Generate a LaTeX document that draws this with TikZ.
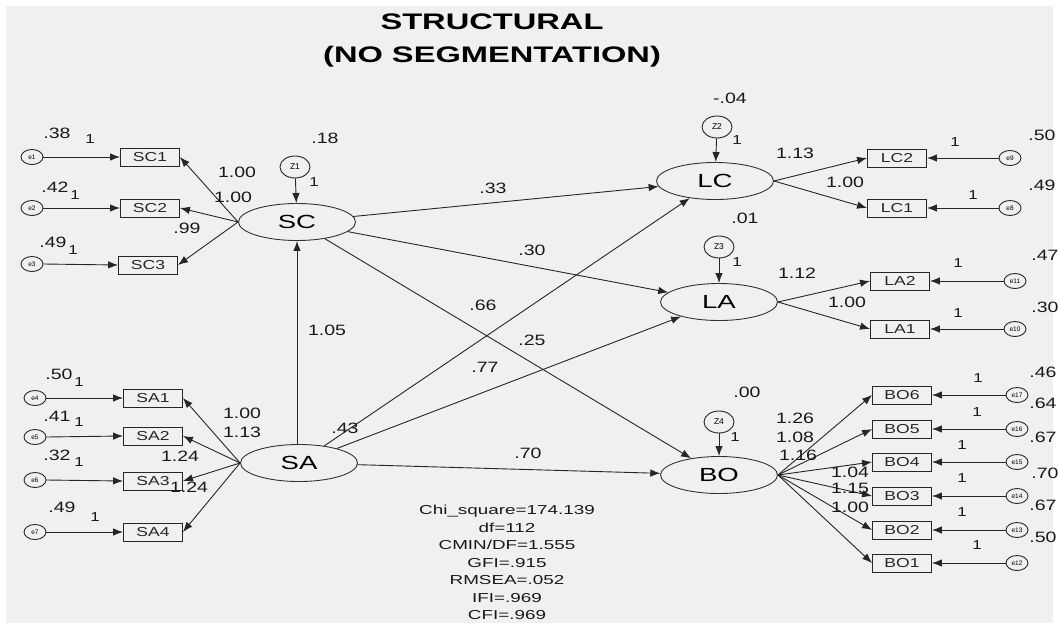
\documentclass[tikz,border=0pt]{standalone}
\usepackage{fontspec}
\setmainfont{Liberation Sans}
\usepackage{graphicx}
\usetikzlibrary{shapes.geometric,arrows.meta}
\newcommand{\sxn}[1]{\scalebox{1.3}[1]{#1}}
\newcommand{\sxw}[1]{\scalebox{1.45}[1]{#1}}
\newcommand{\sxb}[1]{\scalebox{1.35}[1]{#1}}
\newcommand{\lb}[3]{\node[num] (#1) at (#2) {\sxn{#3}};}
\newcommand{\lo}[3]{\node[one] (#1) at (#2) {\sxn{#3}};}
\begin{document}
\begin{tikzpicture}[x=1pt,y=-1pt,
  lat/.style={ellipse,draw=black!80,line width=0.9pt,fill=black!6,minimum width=117pt,minimum height=37pt,inner sep=0pt,font=\fontsize{19}{19}\selectfont},
  obs/.style={rectangle,draw=black!85,line width=0.9pt,fill=black!6,minimum width=59pt,minimum height=18pt,inner sep=0pt,font=\fontsize{13}{13}\selectfont,text=black!85},
  err/.style={ellipse,draw=black!85,line width=0.9pt,minimum width=22pt,minimum height=15pt,inner sep=0pt,font=\fontsize{6.5}{6.5}\selectfont},
  dist/.style={ellipse,draw=black!85,line width=0.9pt,minimum width=30pt,minimum height=22pt,inner sep=0pt,font=\fontsize{8.5}{8.5}\selectfont},
  num/.style={inner sep=0pt,font=\fontsize{15}{15}\selectfont,text=black!90},
  one/.style={inner sep=0pt,font=\fontsize{13}{13}\selectfont,text=black!90},
  arr/.style={-{Latex[length=10pt,width=7.5pt]},line width=0.9pt,draw=black!85},
  ttl/.style={align=center,font=\fontsize{22.5}{33}\selectfont\bfseries},
  stat/.style={align=center,font=\fontsize{13}{17.5}\selectfont,text=black!90}]
\useasboundingbox (0,0) rectangle (1059,629);
\fill[white] (0,0) rectangle (1059,629);
\fill[black!6] (6,6) rectangle (1053,623);

% title
\node[ttl] (title) at (492,40) {\sxw{STRUCTURAL}\\\sxw{(NO SEGMENTATION)}};

% latent variables
\node[lat] (SC) at (297,222) {\sxw{SC}};
\node[lat] (SA) at (299,463) {\sxw{SA}};
\node[lat] (LC) at (715,181) {\sxw{LC}};
\node[lat] (LA) at (719,302) {\sxw{LA}};
\node[lat] (BO) at (719,475) {\sxw{BO}};

% disturbances
\node[dist] (Z1) at (295,167) {Z1};
\node[dist] (Z2) at (717,127) {Z2};
\node[dist] (Z3) at (719,247) {Z3};
\node[dist] (Z4) at (719,422) {Z4};

% observed - left
\node[obs] (SC1) at (150,157) {\sxb{SC1}};
\node[obs] (SC2) at (150,208) {\sxb{SC2}};
\node[obs] (SC3) at (148,265) {\sxb{SC3}};
\node[obs] (SA1) at (153,398) {\sxb{SA1}};
\node[obs] (SA2) at (153,436) {\sxb{SA2}};
\node[obs] (SA3) at (153,481) {\sxb{SA3}};
\node[obs] (SA4) at (153,532) {\sxb{SA4}};
% observed - right
\node[obs] (LC2) at (897,158) {\sxb{LC2}};
\node[obs] (LC1) at (897,208) {\sxb{LC1}};
\node[obs] (LA2) at (900,281) {\sxb{LA2}};
\node[obs] (LA1) at (900,329) {\sxb{LA1}};
\node[obs] (BO6) at (902,395) {\sxb{BO6}};
\node[obs] (BO5) at (902,429) {\sxb{BO5}};
\node[obs] (BO4) at (902,462) {\sxb{BO4}};
\node[obs] (BO3) at (902,496) {\sxb{BO3}};
\node[obs] (BO2) at (902,530) {\sxb{BO2}};
\node[obs] (BO1) at (902,563) {\sxb{BO1}};

% errors
\node[err] (e1) at (32,157) {e1};
\node[err] (e2) at (32,208) {e2};
\node[err] (e3) at (32,264) {e3};
\node[err] (e4) at (35,398) {e4};
\node[err] (e5) at (35,437) {e5};
\node[err] (e6) at (35,480) {e6};
\node[err] (e7) at (35,532) {e7};
\node[err] (e9) at (1010,158) {e9};
\node[err] (e8) at (1010,208) {e8};
\node[err] (e11) at (1015,281) {e11};
\node[err] (e10) at (1015,329) {e10};
\node[err] (e17) at (1017,395) {e17};
\node[err] (e16) at (1017,429) {e16};
\node[err] (e15) at (1017,462) {e15};
\node[err] (e14) at (1017,496) {e14};
\node[err] (e13) at (1017,530) {e13};
\node[err] (e12) at (1017,563) {e12};

% error arrows
\foreach \e/\b in {e1/SC1,e2/SC2,e3/SC3,e4/SA1,e5/SA2,e6/SA3,e7/SA4}
  \draw[arr] (\e.east) -- (\b.west);
\foreach \e/\b in {e9/LC2,e8/LC1,e11/LA2,e10/LA1,e17/BO6,e16/BO5,e15/BO4,e14/BO3,e13/BO2,e12/BO1}
  \draw[arr] (\e.west) -- (\b.east);

% loadings
\foreach \b in {SC1,SC2,SC3} \draw[arr] (SC.west) -- (\b.east);
\foreach \b in {SA1,SA2,SA3,SA4} \draw[arr] (SA.west) -- (\b.east);
\foreach \b in {LC2,LC1} \draw[arr] (LC.east) -- (\b.west);
\foreach \b in {LA2,LA1} \draw[arr] (LA.east) -- (\b.west);
\foreach \b in {BO6,BO5,BO4,BO3,BO2,BO1} \draw[arr] (BO.east) -- (\b.west);

% disturbance arrows
\draw[arr] (Z1) -- (SC);
\draw[arr] (Z2) -- (LC);
\draw[arr] (Z3) -- (LA);
\draw[arr] (Z4) -- (BO);

% structural paths
\draw[arr] (SA.north -| SC.south) -- (SC.south);
\draw[arr] (SC) -- (LC);
\draw[arr] (SC) -- (LA);
\draw[arr] (SC) -- (BO);
\draw[arr] (SA) -- (LC);
\draw[arr] (SA) -- (LA);
\draw[arr] (SA) -- (BO);

% labels left top
\lb{v1}{57,133}{.38} \lo{o1}{90,139}{1}
\lb{v2}{55,187}{.42} \lo{o2}{75,195}{1}
\lb{v3}{53,242}{.49} \lo{o3}{73,250}{1}
\lb{w1}{237,172}{1.00}
\lb{w2}{233,197}{1.00}
\lb{w3}{187,228}{.99}
\lb{r1}{325,138}{.18} \lo{oz1}{314,182}{1}
% left bottom
\lb{v4}{59,374}{.50} \lo{o4}{79,382}{1}
\lb{v5}{57,416}{.41} \lo{o5}{79,422}{1}
\lb{v6}{57,455}{.32} \lo{o6}{79,462}{1}
\lb{v7}{62,507}{.49} \lo{o7}{95,517}{1}
\lb{w4}{242,413}{1.00}
\lb{w5}{242,432}{1.13}
\lb{w6}{180,456}{1.24}
\lb{w7}{189,487}{1.24}
\lb{r2}{345,428}{.43}
% center
\lb{p1}{327,330}{1.05}
\lb{p2}{493,188}{.33}
\lb{p3}{532,250}{.30}
\lb{p4}{483,305}{.66}
\lb{p5}{532,340}{.25}
\lb{p6}{485,367}{.77}
\lb{p7}{528,453}{.70}
% right top
\lb{r3}{730,98}{-.04} \lo{oz2}{737,140}{1}
\lb{w8}{795,153}{1.13}
\lb{w9}{845,182}{1.00}
\lb{r4}{745,218}{.01} \lo{oz3}{737,262}{1}
\lb{w10}{797,273}{1.12}
\lb{w11}{847,302}{1.00}
\lo{o9}{955,142}{1} \lb{v9}{1042,135}{.50}
\lo{o8}{973,195}{1} \lb{v8}{1042,185}{.49}
\lo{o11}{958,263}{1} \lb{v11}{1045,255}{.47}
\lo{o10}{958,313}{1} \lb{v10}{1045,307}{.30}
% right bottom
\lb{r5}{747,392}{.00} \lo{oz4}{735,437}{1}
\lb{w12}{795,418}{1.26}
\lb{w13}{795,437}{1.08}
\lb{w14}{798,455}{1.16}
\lb{w15}{850,472}{1.04}
\lb{w16}{850,488}{1.15}
\lb{w17}{850,507}{1.00}
\lo{o17}{978,378}{1} \lb{v17}{1043,372}{.46}
\lo{o16}{977,412}{1} \lb{v16}{1043,403}{.64}
\lo{o15}{962,445}{1} \lb{v15}{1043,437}{.67}
\lo{o14}{962,478}{1} \lb{v14}{1045,473}{.70}
\lo{o13}{962,512}{1} \lb{v13}{1043,505}{.67}
\lo{o12}{977,545}{1} \lb{v12}{1043,537}{.50}

% fit statistics
\node[stat] (fit) at (507,562.5) {\sxw{Chi\_square=174.139}\\\sxw{df=112}\\\sxw{CMIN/DF=1.555}\\\sxw{GFI=.915}\\\sxw{RMSEA=.052}\\\sxw{IFI=.969}\\\sxw{CFI=.969}};
\end{tikzpicture}
\end{document}
